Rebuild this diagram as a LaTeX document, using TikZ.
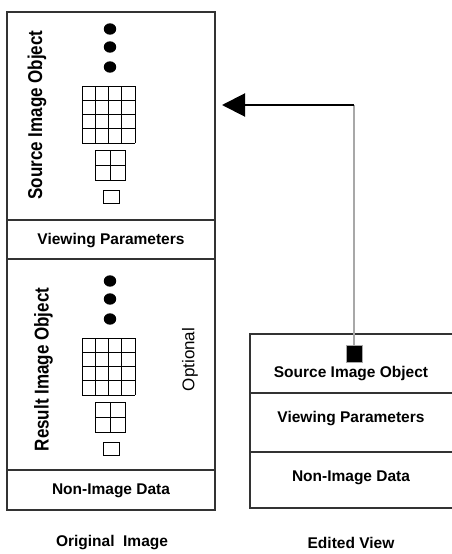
\documentclass[tikz,border=0pt]{standalone}
\usepackage{fontspec}
\setmainfont{Liberation Sans}
\usepackage{tikz}
\usetikzlibrary{positioning,calc,arrows.meta}
\definecolor{LinkGray}{HTML}{A8A8A8}
\definecolor{BoxLine}{HTML}{333333}

\begin{document}
\begin{tikzpicture}[x=1pt,y=-1pt,
    section/.style={draw=BoxLine,line width=1.2pt,inner sep=0pt,minimum width=#1},
    section/.default=208pt,
    lbl/.style={font=\bfseries\fontsize{15.5}{18}\selectfont,inner sep=0pt},
    sidelbl/.style={rotate=90,inner sep=0pt},
    cell/.style={draw=black,line width=0.9pt}]
        \useasboundingbox (0,0) rectangle (452,554);

        % Original image, four sections
        \node[section,minimum height=208pt] (srcobj) at (111,116) {};
        \node[section,minimum height=39pt] (viewpar) at (111,239.5) {};
        \node[section,minimum height=211pt] (resobj) at (111,364.5) {};
        \node[section,minimum height=40pt] (nonimg) at (111,490) {};

        \node[sidelbl] (srclbl) at (37,115) {\scalebox{0.85}[1]{\bfseries\fontsize{20}{24}\selectfont Source Image Object}};
        \node[sidelbl] (reslbl) at (43.5,369.5) {\scalebox{0.85}[1]{\bfseries\fontsize{20}{24}\selectfont Result Image Object}};
        \node[sidelbl] (optlbl) at (190,359.5) {\fontsize{17}{20}\selectfont Optional};
        \node[lbl] (viewlbl) at (111,240.5) {Viewing Parameters};
        \node[lbl] (nonlbl) at (111,491) {Non-Image Data};

        % Image pyramids (source and result)
        \foreach \dy in {0,252} {
          \foreach \cy in {29,47,67}
            \fill ({110},{\cy+\dy}) ellipse [x radius=6.2, y radius=5.7];
          \foreach \k in {0,...,4} {
            \draw[cell] ({82+\k*13.25},{86+\dy}) -- ({82+\k*13.25},{143+\dy});
            \draw[cell] (82,{86+\dy+\k*14.25}) -- (135,{86+\dy+\k*14.25});
          }
          \draw[cell] (95,{150+\dy}) rectangle (125,{180+\dy});
          \draw[cell] (110,{150+\dy}) -- (110,{180+\dy});
          \draw[cell] (95,{165+\dy}) -- (125,{165+\dy});
          \draw[cell] (103,{190+\dy}) rectangle (119,{203+\dy});
        }

        % Edited view, three sections
        \node[section=203pt,minimum height=59pt] (esrc) at (351.5,363.5) {};
        \node[section=203pt,minimum height=59pt] (eview) at (351.5,422.5) {};
        \node[section=203pt,minimum height=56pt] (enon) at (351.5,480) {};

        \node[draw=LinkGray,fill=black,line width=1pt,minimum width=16pt,minimum height=17pt,inner sep=0pt] (esq) at (354,353.5) {};
        \node[lbl] (esrclbl) at (351,374) {Source Image Object};
        \node[lbl] (eviewlbl) at (351,419) {Viewing Parameters};
        \node[lbl] (enonlbl) at (351,478) {Non-Image Data};

        % Captions
        \node[lbl] (origcap) at (112,543) {Original\ \ Image};
        \node[lbl] (editcap) at (351,543) {Edited View};

        % Reference back to source
        \coordinate (bend) at (esq.north |- 0,105);
        \coordinate (tip) at (222,105);
        \draw[LinkGray,line width=1.5pt] (esq.north) -- (bend);
        \draw[line width=2pt,-{Triangle[length=23pt,width=23pt]}] (bend) -- (tip);
      \end{tikzpicture}
\end{document}
